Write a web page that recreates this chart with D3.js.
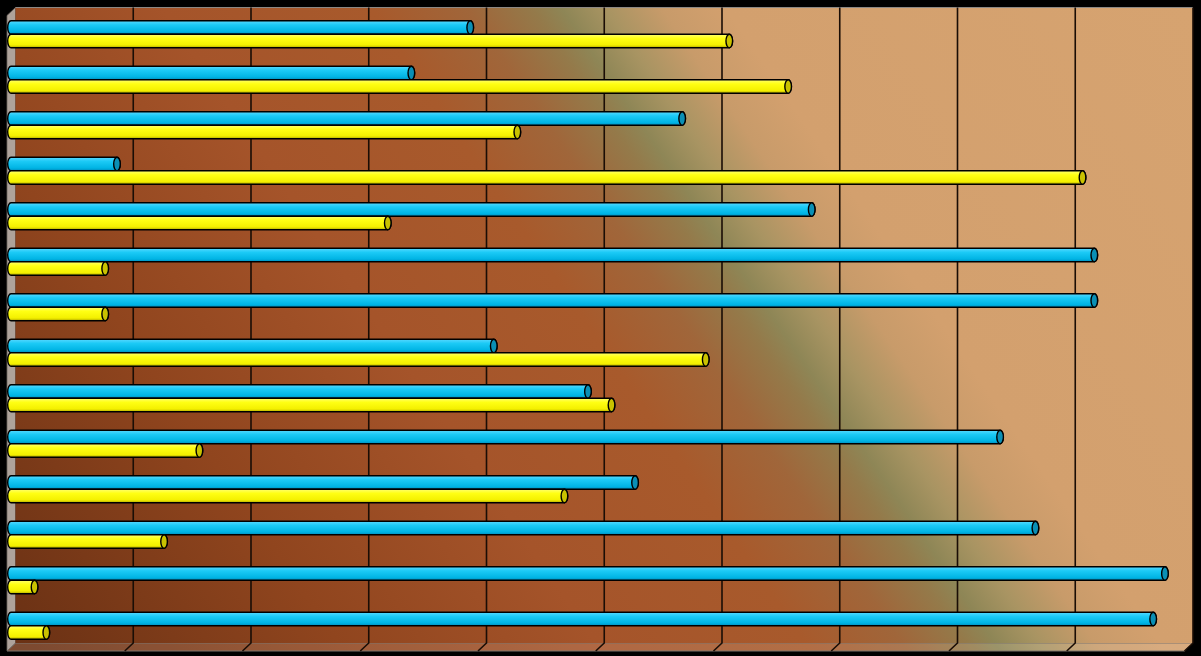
<!DOCTYPE html>
<html>
<head>
<meta charset="utf-8">
<script src="https://cdn.jsdelivr.net/npm/d3@7"></script>
<style>
  html, body { margin: 0; padding: 0; background: #000; }
  svg { display: block; }
</style>
</head>
<body>
<svg id="chart" width="1201" height="656"></svg>
<script>
// ---- data ----
const categories = ["1","2","3","4","5","6","7","8","9","10","11","12","13","14"];
const seriesNames = ["Series 1", "Series 2"];
const cyanValues   = [39, 34, 57,  9, 68, 92, 92, 41, 49, 84, 53, 87, 98, 97];
const yellowValues = [61, 66, 43, 91, 32,  8,  8, 59, 51, 16, 47, 13,  2,  3];
const xTickValues  = [0, 10, 20, 30, 40, 50, 60, 70, 80, 90, 100];

// ---- layout ----
const W = 1201, H = 656;
const wall = { left: 15.5, right: 1193, top: 7.5, bottom: 643 };
const depth = { dx: -8.5, dy: 8 };

const svg = d3.select("#chart");
svg.append("rect").attr("width", W).attr("height", H).attr("fill", "#000");

const defs = svg.append("defs");

// wall gradient (diagonal)
const ux = 0.8257, uy = -0.5642, len = 1330;
const g = defs.append("linearGradient").attr("id", "wallGrad")
  .attr("gradientUnits", "userSpaceOnUse")
  .attr("x1", 16).attr("y1", 643)
  .attr("x2", 16 + len * ux).attr("y2", 643 + len * uy);
[
  [0.00, "#6a3114"],
  [0.20, "#90451e"],
  [0.36, "#a5542a"],
  [0.49, "#a85a2c"],
  [0.55, "#a0663a"],
  [0.59, "#947a4a"],
  [0.608, "#8e8656"],
  [0.635, "#a89462"],
  [0.67, "#c89b6a"],
  [0.71, "#d3a06e"],
  [1.00, "#d6a370"]
].forEach(([o, c]) => g.append("stop").attr("offset", o).attr("stop-color", c));

function barGrad(id, stops) {
  const lg = defs.append("linearGradient").attr("id", id)
    .attr("x1", 0).attr("y1", 0).attr("x2", 0).attr("y2", 1);
  stops.forEach(([o, c]) => lg.append("stop").attr("offset", o).attr("stop-color", c));
}
barGrad("cyanGrad", [[0, "#58d8ff"], [0.3, "#1ccaf6"], [0.8, "#00b4e4"], [1, "#008cbc"]]);
barGrad("yellowGrad", [[0, "#ffff70"], [0.3, "#ffff14"], [0.8, "#f4f000"], [1, "#b0a800"]]);

// ---- scales ----
const xBack  = d3.scaleLinear().domain([0, 100]).range([wall.left, wall.right]);
const xFront = d3.scaleLinear().domain([0, 100]).range([11, 11 + (wall.right - wall.left)]);
const yBand = d3.scaleBand().domain(categories).range([11.5, 648.5]).paddingInner(0).paddingOuter(0);
const groupH = 27;
const ySub = d3.scaleBand().domain(seriesNames).range([0, groupH]);

// ---- walls ----
const floorD = `M${wall.left},${wall.bottom} L${wall.right},${wall.bottom} L${wall.right + depth.dx},${wall.bottom + depth.dy} L${wall.left + depth.dx},${wall.bottom + depth.dy} Z`;
svg.append("path").attr("d", floorD).attr("fill", "url(#wallGrad)").attr("stroke", "none");
svg.append("path").attr("d", floorD)
  .attr("fill", "#ffffff").attr("fill-opacity", 0.12).attr("stroke", "#7d756e").attr("stroke-width", 1);
// left side wall
svg.append("path")
  .attr("d", `M${wall.left},${wall.top} L${wall.left},${wall.bottom} L${wall.left + depth.dx},${wall.bottom + depth.dy} L${wall.left + depth.dx},${wall.top + depth.dy} Z`)
  .attr("fill", "#aea39b").attr("stroke", "#6d655e").attr("stroke-width", 0.8);
// back wall
svg.append("rect")
  .attr("x", wall.left).attr("y", wall.top)
  .attr("width", wall.right - wall.left).attr("height", wall.bottom - wall.top)
  .attr("fill", "url(#wallGrad)");
svg.append("line").attr("x1", wall.left).attr("x2", wall.right)
  .attr("y1", wall.top).attr("y2", wall.top).attr("stroke", "#8c8884").attr("stroke-width", 1.2);

// gridlines (back wall + floor)
const gridTicks = xTickValues.filter(v => v > 0);
svg.append("g").selectAll("path").data(gridTicks).join("path")
  .attr("d", v => `M${xBack(v)},${wall.top} L${xBack(v)},${wall.bottom} L${xBack(v) + depth.dx},${wall.bottom + depth.dy}`)
  .attr("fill", "none").attr("stroke", "#1a0d05").attr("stroke-width", 1.6);

// ---- bars ----
function cylinderPath(x0, x1, yt, h) {
  const rx = 3.3, ry = h / 2, yb = yt + h;
  return `M${x0},${yt} L${x1},${yt} A${rx},${ry} 0 0 1 ${x1},${yb} L${x0},${yb} A${rx},${ry} 0 0 1 ${x0},${yt} Z`;
}

const series = [
  { name: seriesNames[0], values: cyanValues, fill: "url(#cyanGrad)", cap: "#0a8fb5" },
  { name: seriesNames[1], values: yellowValues, fill: "url(#yellowGrad)", cap: "#c9c200" }
];

const barsG = svg.append("g");
categories.forEach((cat, i) => {
  const top = yBand(cat) + (yBand.bandwidth() - groupH) / 2;
  series.forEach(s => {
    const yt = top + ySub(s.name);
    const h = ySub.bandwidth();
    const x0 = xFront(0), x1 = xFront(s.values[i]);
    barsG.append("path")
      .attr("d", cylinderPath(x0, x1, yt, h))
      .attr("fill", s.fill).attr("stroke", "#000").attr("stroke-width", 1.4);
    barsG.append("ellipse")
      .attr("cx", x1).attr("cy", yt + h / 2).attr("rx", 3.3).attr("ry", h / 2)
      .attr("fill", s.cap).attr("stroke", "#000").attr("stroke-width", 1.4);
  });
});
</script>
</body>
</html>
